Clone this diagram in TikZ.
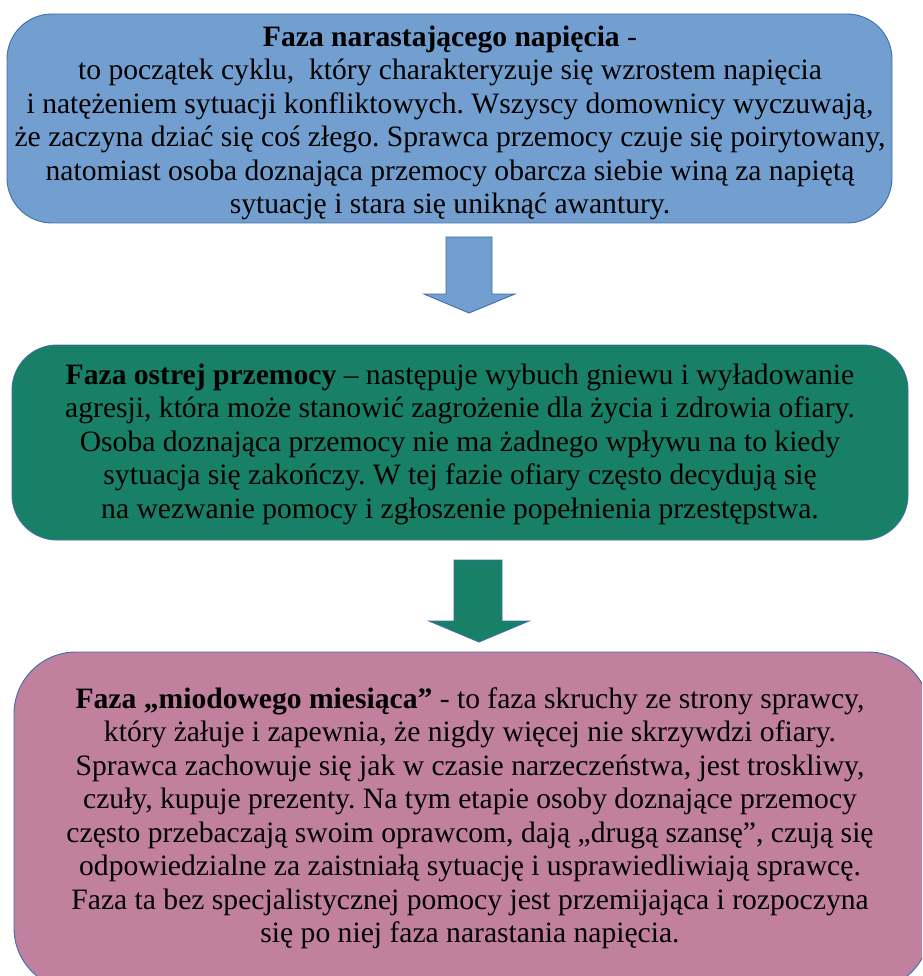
\documentclass[tikz,border=0pt]{standalone}
\usepackage{fontspec}
\setmainfont{Liberation Serif}
\frenchspacing
\definecolor{bluefill}{RGB}{114,159,207}
\definecolor{greenfill}{RGB}{24,128,102}
\definecolor{pinkfill}{RGB}{192,128,158}
\definecolor{edgeblue}{RGB}{62,110,170}
\tikzset{
  phasebox/.style={draw=edgeblue, line width=0.9pt},
  phasetext/.style={align=center, inner sep=0pt, font=\fontsize{29.6}{33.5}\selectfont},
  downarrow/.style={draw=edgeblue, line width=0.9pt, line join=miter}
}
\begin{document}
\begin{tikzpicture}[x=1pt,y=-1pt]
\useasboundingbox (0,0) rectangle (922,976);
\begin{scope}
\clip (0,0) rectangle (922,976);
% boxes
\path[phasebox, fill=bluefill, rounded corners=45pt] (7,14) rectangle (892,223);
\path[phasebox, fill=greenfill, rounded corners=45pt] (12,345) rectangle (908,540);
\path[phasebox, fill=pinkfill, rounded corners=62pt] (14,652) rectangle (930,990);
\end{scope}
% text
\node[phasetext] (t1) at (450,123) {\textbf{Faza narastającego napięcia} -\\
to początek cyklu,\ \ który charakteryzuje się wzrostem napięcia\\
i natężeniem sytuacji konfliktowych. Wszyscy domownicy wyczuwają,\\
że zaczyna dziać się coś złego. Sprawca przemocy czuje się poirytowany,\\
natomiast osoba doznająca przemocy obarcza siebie winą za napiętą\\
sytuację i stara się uniknąć awantury.};
\node[phasetext] (t2) at (460,444) {\textbf{Faza ostrej przemocy} – następuje wybuch gniewu i wyładowanie\\
agresji, która może stanowić zagrożenie dla życia i zdrowia ofiary.\\
Osoba doznająca przemocy nie ma żadnego wpływu na to kiedy\\
sytuacja się zakończy. W tej fazie ofiary często decydują się\\
na wezwanie pomocy i zgłoszenie popełnienia przestępstwa.};
\node[phasetext] (t3) at (470,818) {\textbf{Faza „miodowego miesiąca”} - to faza skruchy ze strony sprawcy,\\
który żałuje i zapewnia, że nigdy więcej nie skrzywdzi ofiary.\\
Sprawca zachowuje się jak w czasie narzeczeństwa, jest troskliwy,\\
czuły, kupuje prezenty. Na tym etapie osoby doznające przemocy\\
często przebaczają swoim oprawcom, dają „drugą szansę”, czują się\\
odpowiedzialne za zaistniałą sytuację i usprawiedliwiają sprawcę.\\
Faza ta bez specjalistycznej pomocy jest przemijająca i rozpoczyna\\
się po niej faza narastania napięcia.};
% arrows
\path[downarrow, fill=bluefill] (446,237) -- (492,237) -- (492,294) -- (515,294) -- (469,313) -- (424,294) -- (446,294) -- cycle;
\path[downarrow, fill=greenfill] (454,560) -- (502,560) -- (502,621) -- (529,621) -- (479,642) -- (429,621) -- (454,621) -- cycle;
\end{tikzpicture}
\end{document}
